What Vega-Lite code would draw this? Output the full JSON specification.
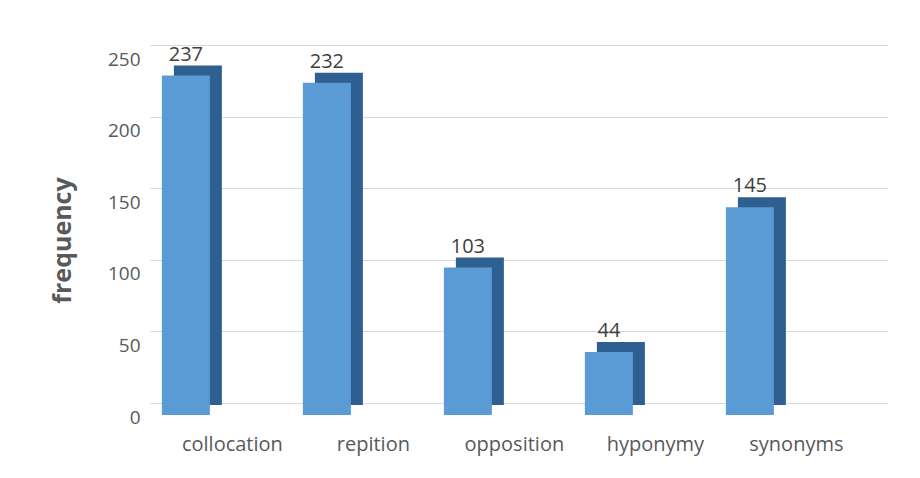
{
  "$schema": "https://vega.github.io/schema/vega-lite/v6.json",
  "width": 738,
  "height": 358,
  "autosize": {"type": "none"},
  "padding": {"left": 150, "top": 45, "right": 32, "bottom": 75},
  "background": "#ffffff",
  "config": {"view": {"stroke": null}, "font": "Open Sans"},
  "data": {"values": [
    {"category": "collocation", "frequency": 237},
    {"category": "repition", "frequency": 232},
    {"category": "opposition", "frequency": 103},
    {"category": "hyponymy", "frequency": 44},
    {"category": "synonyms", "frequency": 145}
  ]},
  "encoding": {
    "x": {
      "field": "category", "type": "nominal", "sort": null,
      "scale": {"type": "band", "paddingInner": 0, "paddingOuter": 0.117, "align": 0.36},
      "axis": {"title": null, "labelAngle": 0, "ticks": false, "domain": false, "labelPadding": 31, "labelFontSize": 20, "labelColor": "#595959", "labelFont": "Open Sans"}
    },
    "y": {
      "field": "frequency", "type": "quantitative",
      "scale": {"domain": [0, 250], "nice": false},
      "axis": {"title": "frequency", "values": [0, 50, 100, 150, 200, 250], "ticks": false, "domain": false, "grid": true, "gridColor": "#d9d9d9", "gridWidth": 1.2, "labelOffset": 14, "labelPadding": 10, "labelFontSize": 19, "labelColor": "#595959", "labelFont": "Open Sans", "titleFontSize": 25, "titleFontWeight": "bold", "titleColor": "#595959", "titleFont": "Open Sans", "titleX": -88, "titleY": 195, "titleBaseline": "middle", "titleAngle": -90}
    }
  },
  "layer": [
    {"mark": {"type": "bar", "width": 48, "xOffset": -34.5, "yOffset": 2, "color": "#2f5f91"}},
    {"mark": {"type": "bar", "width": 48, "xOffset": -46.5, "yOffset": 12, "color": "#5b9bd5"}},
    {"mark": {"type": "text", "xOffset": -46.5, "yOffset": 12, "dy": -15, "baseline": "alphabetic", "fontSize": 20, "color": "#404040", "font": "Open Sans"},
     "encoding": {"text": {"field": "frequency", "type": "quantitative"}}}
  ]
}
